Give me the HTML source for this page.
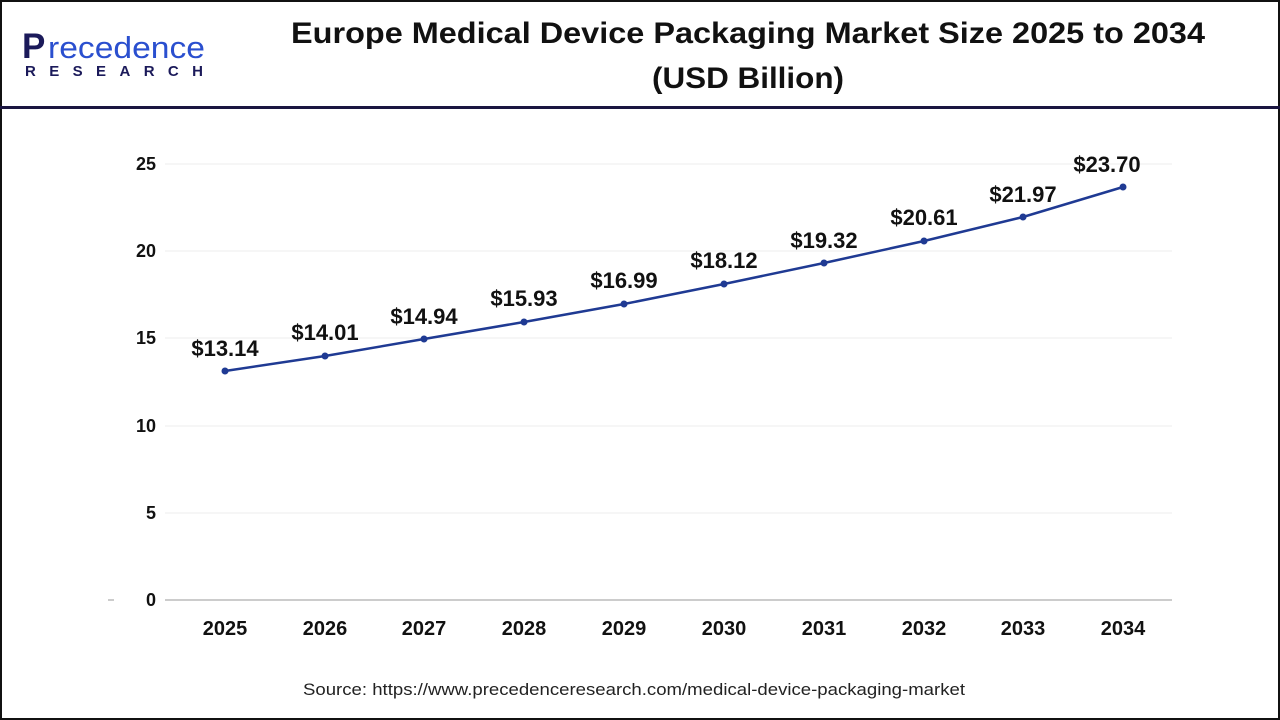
<!DOCTYPE html>
<html><head><meta charset="utf-8"><style>
html,body{margin:0;padding:0;background:#fff;}
body{width:1280px;height:720px;position:relative;overflow:hidden;font-family:"Liberation Sans",Arial,sans-serif;}
.frame{position:absolute;left:0;top:0;width:1276px;height:716px;border:2px solid #111;}
.hline{position:absolute;left:0;top:106px;width:1280px;height:3px;background:#1a1640;}
</style></head><body>
<div class="frame"></div>
<div class="hline"></div>
<svg width="1280" height="720" style="position:absolute;left:0;top:0">
<g font-family="Liberation Sans" font-size="30" font-weight="bold" fill="#111" text-anchor="middle">
<text x="748" y="43" textLength="914" lengthAdjust="spacingAndGlyphs">Europe Medical Device Packaging Market Size 2025 to 2034</text>
<text x="748" y="88" textLength="192" lengthAdjust="spacingAndGlyphs">(USD Billion)</text>
</g>
<text x="22" y="58" font-family="Liberation Sans" font-size="35" fill="#1b1a5a" font-weight="bold" textLength="26">P</text>
<text x="48" y="58" font-family="Liberation Sans" font-size="31" fill="#2a4fcf" textLength="157" lengthAdjust="spacingAndGlyphs">recedence</text>
<text x="25" y="76" font-family="Liberation Sans" font-size="15" font-weight="bold" fill="#1b1a5a" textLength="178" lengthAdjust="spacing">RESEARCH</text>
<g stroke="#eee" stroke-width="1">
<line x1="165" x2="1172" y1="164" y2="164"/><line x1="165" x2="1172" y1="251" y2="251"/>
<line x1="165" x2="1172" y1="338" y2="338"/><line x1="165" x2="1172" y1="426" y2="426"/>
<line x1="165" x2="1172" y1="513" y2="513"/>
</g>
<line x1="165" x2="1172" y1="600" y2="600" stroke="#bbb" stroke-width="1.5"/>
<line x1="108" x2="114" y1="600" y2="600" stroke="#999"/>
<g font-family="Liberation Sans" font-size="18" font-weight="bold" fill="#111" text-anchor="end">
<text x="156" y="170">25</text><text x="156" y="257">20</text><text x="156" y="344">15</text>
<text x="156" y="432">10</text><text x="156" y="519">5</text><text x="156" y="606">0</text>
</g>
<g font-family="Liberation Sans" font-size="20" font-weight="bold" fill="#111" text-anchor="middle">
<text x="225" y="635">2025</text><text x="325" y="635">2026</text><text x="424" y="635">2027</text>
<text x="524" y="635">2028</text><text x="624" y="635">2029</text><text x="724" y="635">2030</text>
<text x="824" y="635">2031</text><text x="924" y="635">2032</text><text x="1023" y="635">2033</text>
<text x="1123" y="635">2034</text>
</g>
<polyline fill="none" stroke="#1f3a93" stroke-width="2.5" points="225,371 325,356 424,339 524,322 624,304 724,284 824,263 924,241 1023,217 1123,187"/>
<g fill="#1f3a93">
<circle cx="225" cy="371" r="3.5"/><circle cx="325" cy="356" r="3.5"/><circle cx="424" cy="339" r="3.5"/>
<circle cx="524" cy="322" r="3.5"/><circle cx="624" cy="304" r="3.5"/><circle cx="724" cy="284" r="3.5"/>
<circle cx="824" cy="263" r="3.5"/><circle cx="924" cy="241" r="3.5"/><circle cx="1023" cy="217" r="3.5"/>
<circle cx="1123" cy="187" r="3.5"/>
</g>
<g font-family="Liberation Sans" font-size="22" font-weight="bold" fill="#111" text-anchor="middle">
<text x="225" y="356">$13.14</text><text x="325" y="340">$14.01</text><text x="424" y="324">$14.94</text>
<text x="524" y="306">$15.93</text><text x="624" y="288">$16.99</text><text x="724" y="268">$18.12</text>
<text x="824" y="248">$19.32</text><text x="924" y="225">$20.61</text><text x="1023" y="202">$21.97</text>
<text x="1107" y="172">$23.70</text>
</g>
<text x="634" y="695" font-family="Liberation Sans" font-size="17" fill="#222" text-anchor="middle" textLength="662" lengthAdjust="spacingAndGlyphs">Source: https://www.precedenceresearch.com/medical-device-packaging-market</text>
</svg>
</body></html>
